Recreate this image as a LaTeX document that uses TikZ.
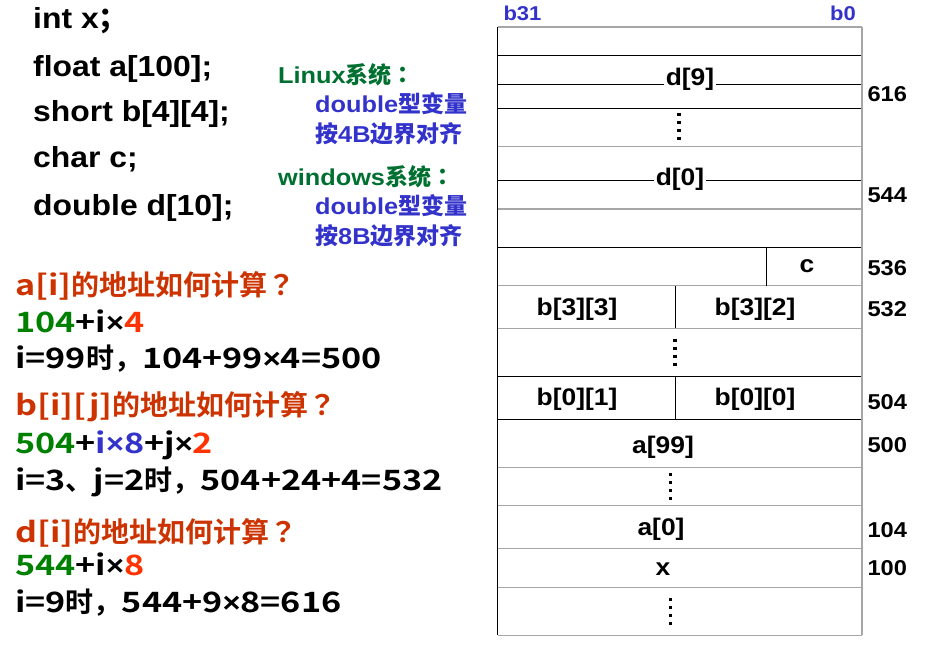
\documentclass[tikz,border=0pt]{standalone}
\usepackage{fontspec}
\setmainfont{Liberation Sans}[FakeStretch=1.1]
\newfontfamily\cjk{Noto Sans CJK SC Bold}[Kerning=Off]
\newfontfamily\cjkp{Noto Sans CJK JP Bold}[Kerning=Off]
\newfontfamily\yh{Noto Sans CJK SC Bold}[FakeStretch=1.22]
\newcommand{\mul}{{\rmfamily\bfseries ×}}
\definecolor{titlered}{RGB}{204,51,0}
\definecolor{fgreen}{RGB}{0,128,0}
\definecolor{fred}{RGB}{255,51,0}
\definecolor{fblue}{RGB}{51,51,204}
\definecolor{sgreen}{RGB}{0,112,48}

\begin{document}
\begin{tikzpicture}[x=1pt,y=-1pt]
\tikzstyle{code}=[anchor=base west,inner sep=0pt,font=\fontsize{29}{32}\selectfont\bfseries]
\tikzstyle{note}=[anchor=base west,inner sep=0pt,font=\fontsize{23}{26}\selectfont\bfseries]
\tikzstyle{calc}=[anchor=base west,inner sep=0pt,font=\fontsize{28}{30}\selectfont\yh]
\tikzstyle{cell}=[inner sep=0pt,font=\fontsize{24}{26}\selectfont\bfseries]
\tikzstyle{addr}=[anchor=west,inner sep=0pt,font=\fontsize{21.5}{24}\selectfont\bfseries]
\tikzstyle{bit}=[inner sep=0pt,text=fblue,font=\fontsize{20}{22}\selectfont\bfseries]
\tikzstyle{thin}=[line width=1pt]
\tikzstyle{grey}=[line width=1.5pt,draw=gray!70]
\tikzstyle{more}=[line width=3.3pt,dash pattern=on 3pt off 5pt]
\useasboundingbox (0,0) rectangle (947,645);

% declarations
\node (int) at (33,28) [code]{int x{\cjk ；}};
\node (float) at (33,76) [code]{float a[100];};
\node (short) at (33,121) [code]{short b[4][4];};
\node (char) at (33,167) [code]{char c;};
\node (double) at (33,215) [code]{double d[10];};

% alignment notes
\node (linux) at (278,83) [note,text=sgreen]{Linux{\cjk 系统}{\cjkp ：}};
\node (lin1) at (315,112) [note,text=fblue]{double{\cjk 型变量}};
\node (lin2) at (315,142) [note,text=fblue]{{\cjk 按}4B{\cjk 边界对齐}};
\node (win) at (278,185) [note,text=sgreen]{windows{\cjk 系统}{\cjkp ：}};
\node (win1) at (315,214) [note,text=fblue]{double{\cjk 型变量}};
\node (win2) at (315,244) [note,text=fblue]{{\cjk 按}8B{\cjk 边界对齐}};

% address calculations
\node (qa) at (15,295) [calc,text=titlered]{a[i]{\cjk 的地址如何计算}{\cjkp ？}};
\node (fa) at (15,332) [calc]{\textcolor{fgreen}{104}+i\mul\textcolor{fred}{4}};
\node (ea) at (15,368) [calc]{i=99{\cjk 时，}104+99\mul4=500};
\node (qb) at (15,415) [calc,text=titlered]{b[i][j]{\cjk 的地址如何计算}{\cjkp ？}};
\node (fb) at (15,453) [calc]{\textcolor{fgreen}{504}+\textcolor{fblue}{i\mul8}+j\mul\textcolor{fred}{2}};
\node (eb) at (15,490) [calc]{i=3{\cjk 、}j=2{\cjk 时，}504+24+4=532};
\node (qd) at (15,542) [calc,text=titlered]{d[i]{\cjk 的地址如何计算}{\cjkp ？}};
\node (fd) at (15,575) [calc]{\textcolor{fgreen}{544}+i\mul\textcolor{fred}{8}};
\node (ed) at (15,612) [calc]{i=9{\cjk 时，}544+9\mul8=616};

% memory
\node (b31) at (522.5,13.5) [bit]{b31};
\node (b0) at (843,13.5) [bit]{b0};
\draw[grey] (497.5,27) -- (862,27);
\draw[thin] (497.5,55.3) -- (862,55.3);
\draw[thin] (497.5,84.3) -- (862,84.3);
\draw[thin] (497.5,108.3) -- (862,108.3);
\draw[grey] (497.5,146.7) -- (862,146.7);
\draw[thin] (497.5,180.3) -- (862,180.3);
\draw[grey] (497.5,209) -- (862,209);
\draw[thin] (497.5,247.3) -- (862,247.3);
\draw[grey] (497.5,285.7) -- (862,285.7);
\draw[grey] (497.5,328.3) -- (862,328.3);
\draw[thin] (497.5,376.7) -- (862,376.7);
\draw[thin] (497.5,419.3) -- (862,419.3);
\draw[grey] (497.5,467.3) -- (862,467.3);
\draw[grey] (497.5,505.7) -- (862,505.7);
\draw[grey] (497.5,548.7) -- (862,548.7);
\draw[grey] (497.5,587.3) -- (862,587.3);
\draw[grey] (497.5,635.3) -- (862,635.3);
\draw[thin] (497.5,27) -- (497.5,635.3);
\draw[grey] (862,27) -- (862,635.3);
\draw[thin] (766.3,247.3) -- (766.3,285.7);
\draw[thin] (675.3,285.7) -- (675.3,328.3);
\draw[thin] (675.3,376.7) -- (675.3,419.3);
\draw[more] (679,113) -- (679,141);
\draw[more] (675,338.5) -- (675,366.5);
\draw[more] (670.5,473) -- (670.5,501);
\draw[more] (670.5,597.5) -- (670.5,625.5);

\node (d9) at (690,79.7) [cell,fill=white,inner xsep=2pt]{d[9]};
\node (d0) at (680,179.5) [cell,fill=white,inner xsep=2pt]{d[0]};
\node (c) at (807,266) [cell]{c};
\node (b33) at (577,309.5) [cell]{b[3][3]};
\node (b32) at (755,309.5) [cell]{b[3][2]};
\node (b01) at (577,399) [cell]{b[0][1]};
\node (b00) at (755,399) [cell]{b[0][0]};
\node (a99) at (663,447.5) [cell]{a[99]};
\node (a0) at (661,529) [cell]{a[0]};
\node (x) at (663,569) [cell]{x};

\node (616) at (867.3,94.3) [addr]{616};
\node (544) at (867.3,195.7) [addr]{544};
\node (536) at (867.3,267.7) [addr]{536};
\node (532) at (867.3,309.3) [addr]{532};
\node (504) at (867.3,401.7) [addr]{504};
\node (500) at (867.3,444.7) [addr]{500};
\node (104) at (867.3,530.5) [addr]{104};
\node (100) at (867.3,568.3) [addr]{100};
\end{tikzpicture}
\end{document}
